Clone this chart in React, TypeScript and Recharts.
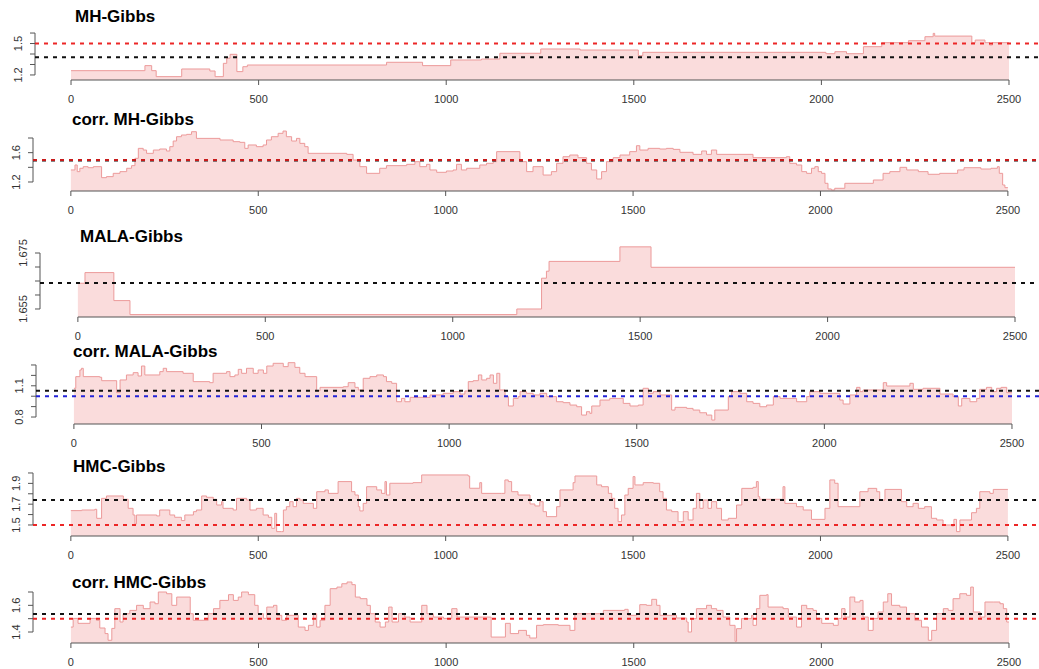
import { AreaChart, Area, XAxis, YAxis, ReferenceLine } from 'recharts';

const FONT = '"Liberation Sans", Arial, Helvetica, sans-serif';

const X_TICKS = [0, 500, 1000, 1500, 2000, 2500];

// [iteration, value] change points of each trace
const MH_GIBBS: [number, number][] = [
    [0, 1.241], [197, 1.289], [215, 1.241], [227, 1.184], [295, 1.257], [370, 1.238], [384, 1.184],
    [406, 1.311], [415, 1.36], [424, 1.397], [442, 1.232], [458, 1.279], [470, 1.295], [841, 1.321],
    [937, 1.289], [1012, 1.343], [1094, 1.352], [1143, 1.407], [1252, 1.448], [1357, 1.438], [1512, 1.384],
    [1524, 1.416], [2012, 1.403], [2036, 1.422], [2067, 1.403], [2112, 1.47], [2161, 1.508], [2232, 1.527],
    [2276, 1.565], [2298, 1.597], [2302, 1.571], [2401, 1.508], [2410, 1.533], [2436, 1.508], [2448, 1.486],
    [2456, 1.508], [2500, 1.508],
];

const CORR_MH_GIBBS: [number, number][] = [
    [0, 1.364], [11, 1.432], [17, 1.341], [24, 1.387], [33, 1.409], [46, 1.395], [60, 1.409], [82, 1.259],
    [95, 1.273], [113, 1.318], [131, 1.341], [149, 1.387], [162, 1.423], [171, 1.523], [180, 1.659], [193, 1.636],
    [202, 1.591], [220, 1.636], [237, 1.65], [255, 1.623], [264, 1.682], [273, 1.759], [282, 1.818], [295, 1.841],
    [309, 1.85], [322, 1.886], [335, 1.795], [398, 1.773], [433, 1.75], [451, 1.741], [464, 1.659], [473, 1.705],
    [495, 1.682], [513, 1.705], [522, 1.773], [535, 1.818], [553, 1.864], [566, 1.895], [575, 1.818], [589, 1.759],
    [602, 1.795], [611, 1.727], [624, 1.682], [633, 1.591], [736, 1.577], [753, 1.5], [771, 1.409], [789, 1.318],
    [824, 1.387], [842, 1.423], [896, 1.441], [918, 1.477], [931, 1.409], [949, 1.441], [958, 1.364], [976, 1.332],
    [1002, 1.35], [1020, 1.364], [1029, 1.441], [1042, 1.364], [1056, 1.387], [1091, 1.432], [1109, 1.455],
    [1127, 1.477], [1136, 1.614], [1185, 1.614], [1198, 1.477], [1216, 1.341], [1233, 1.409], [1260, 1.295],
    [1282, 1.341], [1296, 1.455], [1313, 1.545], [1331, 1.568], [1353, 1.532], [1376, 1.455], [1389, 1.364],
    [1403, 1.241], [1416, 1.341], [1429, 1.477], [1447, 1.532], [1465, 1.568], [1491, 1.614], [1509, 1.695],
    [1518, 1.636], [1540, 1.659], [1571, 1.65], [1589, 1.659], [1607, 1.645], [1625, 1.605], [1660, 1.577],
    [1683, 1.623], [1696, 1.577], [1709, 1.636], [1723, 1.577], [1820, 1.532], [1909, 1.545], [1918, 1.455],
    [1936, 1.432], [1950, 1.341], [1963, 1.318], [1976, 1.387], [1985, 1.409], [1994, 1.341], [2003, 1.318],
    [2012, 1.182], [2020, 1.105], [2029, 1.091], [2038, 1.114], [2065, 1.182], [2141, 1.227], [2167, 1.318],
    [2185, 1.341], [2212, 1.4], [2230, 1.364], [2261, 1.341], [2287, 1.305], [2318, 1.318], [2366, 1.364],
    [2383, 1.395], [2428, 1.377], [2455, 1.387], [2472, 1.409], [2477, 1.318], [2486, 1.159], [2492, 1.123],
    [2500, 1.123],
];

const MALA_GIBBS: [number, number][] = [
    [0, 1.6642], [19, 1.668], [96, 1.658], [139, 1.653], [1171, 1.655], [1237, 1.666], [1250, 1.6685],
    [1257, 1.672], [1446, 1.6772], [1529, 1.6699], [2500, 1.6699],
];

const CORR_MALA_GIBBS: [number, number][] = [
    [0, 1.076], [5, 1.188], [16, 1.252], [20, 1.268], [25, 1.188], [69, 1.182], [74, 1.149], [114, 1.034],
    [123, 1.156], [140, 1.204], [158, 1.226], [171, 1.194], [180, 1.29], [189, 1.204], [229, 1.236], [238, 1.268],
    [247, 1.236], [291, 1.22], [318, 1.14], [362, 1.13], [371, 1.22], [407, 1.236], [416, 1.188], [429, 1.204],
    [438, 1.258], [447, 1.22], [460, 1.268], [478, 1.22], [491, 1.252], [505, 1.22], [514, 1.29], [531, 1.316],
    [558, 1.284], [571, 1.322], [589, 1.277], [602, 1.22], [616, 1.188], [647, 1.053], [656, 1.085], [718, 1.091],
    [731, 1.13], [749, 1.085], [758, 1.06], [771, 1.172], [789, 1.188], [807, 1.204], [825, 1.188], [833, 1.14],
    [847, 1.124], [860, 0.947], [873, 0.979], [882, 0.947], [896, 0.989], [949, 1.012], [984, 1.028], [1011, 1.044],
    [1029, 1.021], [1042, 1.05], [1051, 1.14], [1064, 1.149], [1078, 1.204], [1087, 1.156], [1100, 1.172],
    [1109, 1.204], [1118, 1.124], [1127, 1.22], [1135, 1.06], [1149, 0.996], [1158, 0.906], [1171, 0.979],
    [1184, 0.996], [1189, 1.044], [1206, 1.028], [1224, 1.012], [1242, 1.028], [1260, 0.996], [1286, 0.947],
    [1304, 0.938], [1322, 0.915], [1340, 0.899], [1353, 0.819], [1366, 0.851], [1375, 0.835], [1380, 0.906],
    [1402, 0.963], [1428, 0.979], [1464, 0.931], [1482, 0.906], [1504, 0.915], [1517, 1.076], [1531, 1.028],
    [1544, 1.044], [1562, 1.012], [1593, 0.867], [1602, 0.893], [1633, 0.883], [1650, 0.867], [1668, 0.841],
    [1686, 0.819], [1700, 0.771], [1708, 0.867], [1744, 0.996], [1753, 1.044], [1775, 1.028], [1793, 0.947],
    [1810, 0.931], [1828, 0.899], [1846, 0.915], [1864, 0.996], [1882, 0.979], [1926, 0.947], [1953, 0.996],
    [1961, 1.044], [1988, 1.028], [2041, 0.963], [2050, 0.925], [2068, 1.012], [2086, 1.085], [2095, 1.044],
    [2103, 1.06], [2157, 1.13], [2166, 1.098], [2228, 1.124], [2237, 1.066], [2263, 1.076], [2308, 1.021],
    [2343, 0.996], [2357, 0.906], [2366, 0.979], [2388, 0.947], [2406, 0.979], [2414, 1.066], [2432, 1.085],
    [2446, 1.044], [2459, 1.076], [2471, 1.085], [2486, 1.034], [2500, 1.034],
];

const HMC_GIBBS: [number, number][] = [
    [0, 1.638], [29, 1.644], [64, 1.651], [69, 1.564], [82, 1.756], [95, 1.779], [140, 1.747], [153, 1.66],
    [166, 1.596], [171, 1.51], [175, 1.596], [229, 1.587], [237, 1.644], [264, 1.596], [277, 1.574], [295, 1.542],
    [304, 1.596], [327, 1.628], [335, 1.644], [349, 1.779], [362, 1.766], [380, 1.747], [389, 1.692], [402, 1.724],
    [406, 1.66], [433, 1.644], [442, 1.756], [469, 1.74], [478, 1.644], [495, 1.66], [513, 1.596], [527, 1.574],
    [536, 1.468], [544, 1.612], [549, 1.436], [562, 1.436], [567, 1.644], [575, 1.676], [584, 1.724], [593, 1.676],
    [602, 1.756], [611, 1.74], [620, 1.708], [647, 1.66], [656, 1.82], [678, 1.837], [687, 1.804], [713, 1.917],
    [749, 1.82], [758, 1.788], [767, 1.676], [771, 1.635], [780, 1.708], [789, 1.868], [816, 1.837], [829, 1.804],
    [838, 1.917], [842, 1.788], [851, 1.901], [913, 1.907], [936, 1.981], [1060, 1.971], [1064, 1.853],
    [1091, 1.907], [1096, 1.804], [1149, 1.804], [1158, 1.933], [1167, 1.917], [1176, 1.82], [1193, 1.788],
    [1225, 1.702], [1238, 1.683], [1251, 1.724], [1260, 1.628], [1269, 1.58], [1296, 1.676], [1305, 1.837],
    [1340, 1.907], [1345, 1.971], [1403, 1.885], [1416, 1.868], [1434, 1.804], [1443, 1.756], [1451, 1.66],
    [1460, 1.532], [1469, 1.596], [1478, 1.788], [1487, 1.852], [1500, 1.965], [1505, 1.885], [1527, 1.907],
    [1554, 1.901], [1571, 1.82], [1580, 1.756], [1589, 1.644], [1603, 1.628], [1620, 1.532], [1634, 1.628],
    [1647, 1.548], [1660, 1.66], [1669, 1.804], [1678, 1.66], [1687, 1.74], [1700, 1.66], [1709, 1.724],
    [1723, 1.66], [1736, 1.548], [1754, 1.564], [1776, 1.692], [1790, 1.852], [1820, 1.862], [1829, 1.917],
    [1834, 1.772], [1838, 1.747], [1900, 1.868], [1905, 1.708], [1936, 1.676], [1954, 1.644], [1976, 1.554],
    [2012, 1.66], [2025, 1.933], [2038, 1.901], [2047, 1.676], [2105, 1.82], [2127, 1.852], [2150, 1.82],
    [2158, 1.74], [2172, 1.842], [2216, 1.724], [2230, 1.676], [2247, 1.708], [2261, 1.66], [2278, 1.676],
    [2296, 1.564], [2310, 1.548], [2327, 1.5], [2350, 1.49], [2356, 1.554], [2363, 1.436], [2372, 1.548],
    [2403, 1.618], [2416, 1.66], [2425, 1.82], [2452, 1.804], [2461, 1.842], [2500, 1.842],
];

const CORR_HMC_GIBBS: [number, number][] = [
    [0, 1.437], [6, 1.502], [19, 1.465], [51, 1.502], [68, 1.488], [77, 1.43], [91, 1.388], [99, 1.338],
    [109, 1.427], [117, 1.575], [131, 1.475], [139, 1.537], [157, 1.562], [175, 1.6], [193, 1.575], [211, 1.625],
    [224, 1.612], [233, 1.7], [255, 1.687], [269, 1.6], [282, 1.662], [318, 1.537], [326, 1.488], [366, 1.537],
    [380, 1.575], [397, 1.637], [420, 1.68], [433, 1.637], [446, 1.662], [455, 1.7], [473, 1.68], [490, 1.6],
    [499, 1.537], [513, 1.502], [522, 1.587], [540, 1.6], [549, 1.525], [562, 1.488], [575, 1.525], [606, 1.437],
    [624, 1.412], [633, 1.45], [646, 1.537], [655, 1.437], [664, 1.488], [677, 1.6], [691, 1.725], [709, 1.737],
    [722, 1.762], [736, 1.775], [749, 1.755], [758, 1.662], [771, 1.65], [789, 1.6], [798, 1.537], [811, 1.475],
    [824, 1.437], [838, 1.475], [847, 1.587], [856, 1.475], [873, 1.537], [890, 1.512], [904, 1.475], [935, 1.6],
    [949, 1.537], [966, 1.512], [993, 1.502], [1015, 1.575], [1029, 1.512], [1120, 1.362], [1158, 1.465],
    [1171, 1.388], [1193, 1.412], [1214, 1.375], [1223, 1.355], [1241, 1.45], [1259, 1.455], [1299, 1.45],
    [1330, 1.412], [1343, 1.537], [1419, 1.562], [1476, 1.57], [1485, 1.525], [1508, 1.537], [1516, 1.605],
    [1534, 1.6], [1548, 1.645], [1561, 1.6], [1570, 1.525], [1614, 1.505], [1641, 1.475], [1645, 1.4],
    [1654, 1.5], [1667, 1.575], [1694, 1.6], [1707, 1.575], [1721, 1.562], [1738, 1.512], [1756, 1.45],
    [1770, 1.33], [1774, 1.425], [1787, 1.5], [1814, 1.525], [1818, 1.45], [1827, 1.575], [1836, 1.675],
    [1854, 1.68], [1858, 1.587], [1898, 1.575], [1912, 1.512], [1934, 1.437], [1947, 1.6], [1961, 1.575],
    [1978, 1.562], [1987, 1.502], [2001, 1.465], [2032, 1.45], [2045, 1.502], [2054, 1.575], [2063, 1.512],
    [2076, 1.662], [2089, 1.625], [2103, 1.637], [2111, 1.512], [2125, 1.412], [2138, 1.502], [2151, 1.55],
    [2165, 1.625], [2177, 1.687], [2187, 1.6], [2209, 1.587], [2227, 1.537], [2249, 1.488], [2267, 1.437],
    [2285, 1.338], [2294, 1.412], [2307, 1.537], [2325, 1.575], [2338, 1.562], [2351, 1.65], [2369, 1.687],
    [2387, 1.675], [2398, 1.737], [2405, 1.55], [2423, 1.512], [2436, 1.625], [2458, 1.625], [2476, 1.612],
    [2485, 1.575], [2494, 1.475], [2500, 1.475],
];

const RED = "#ec2626";
const BLACK = "#111";
const BLUE = "#2323d8";
const PAD = 20; // room above each plot so rotated tick labels are not clipped

interface PanelSpec {
    title: string;
    titleX: number;
    titleTop: number;
    series: [number, number][];
    axisX: number;
    top: number;
    bottom: number;
    xDomain: [number, number];
    yDomain: [number, number];
    yTicks: number[];
    yLabels: number[];
    refs: { y: number; color: string }[];
}

const PANELS: PanelSpec[] = [
    {
        title: "MH-Gibbs", titleX: 75, titleTop: 7.6, series: MH_GIBBS,
        axisX: 35, top: 30, bottom: 80, xDomain: [-96, 2580], yDomain: [1.152, 1.629],
        yTicks: [1.2, 1.3, 1.4, 1.5, 1.6], yLabels: [1.2, 1.5],
        refs: [{ y: 1.37, color: BLACK }, { y: 1.5, color: RED }],
    },
    {
        title: "corr. MH-Gibbs", titleX: 72, titleTop: 110.6, series: CORR_MH_GIBBS,
        axisX: 33, top: 129, bottom: 191, xDomain: [-101, 2583], yDomain: [1.077, 1.923],
        yTicks: [1.2, 1.4, 1.6, 1.8], yLabels: [1.2, 1.6],
        refs: [{ y: 1.492, color: BLACK }, { y: 1.5, color: "#c81a1a" }],
    },
    {
        title: "MALA-Gibbs", titleX: 80, titleTop: 227.6, series: MALA_GIBBS,
        axisX: 40, top: 245, bottom: 317, xDomain: [-101, 2564], yDomain: [1.65214, 1.67786],
        yTicks: [1.655, 1.66, 1.665, 1.67, 1.675], yLabels: [1.655, 1.675],
        refs: [{ y: 1.6643, color: BLACK }],
    },
    {
        title: "corr. MALA-Gibbs", titleX: 73, titleTop: 342.6, series: CORR_MALA_GIBBS,
        axisX: 36, top: 358, bottom: 424, xDomain: [-101, 2572], yDomain: [0.733, 1.367],
        yTicks: [0.8, 0.9, 1.0, 1.1, 1.2, 1.3], yLabels: [0.8, 1.1],
        refs: [{ y: 1.053, color: BLACK }, { y: 1.0, color: BLUE }],
    },
    {
        title: "HMC-Gibbs", titleX: 73, titleTop: 457.6, series: HMC_GIBBS,
        axisX: 33, top: 471, bottom: 536, xDomain: [-101, 2583], yDomain: [1.394, 2.019],
        yTicks: [1.5, 1.6, 1.7, 1.8, 1.9, 2.0], yLabels: [1.5, 1.7, 1.9],
        refs: [{ y: 1.74, color: BLACK }, { y: 1.5, color: RED }],
    },
    {
        title: "corr. HMC-Gibbs", titleX: 72, titleTop: 573.6, series: CORR_HMC_GIBBS,
        axisX: 33, top: 580, bottom: 643, xDomain: [-101, 2580], yDomain: [1.3175, 1.79],
        yTicks: [1.4, 1.5, 1.6, 1.7], yLabels: [1.4, 1.6],
        refs: [{ y: 1.535, color: BLACK }, { y: 1.5, color: RED }],
    },
];

function YTick(props: any) {
    const { x, y, payload, labels } = props;
    if (!labels.includes(payload.value)) return <g />;
    return (
        <text x={x} y={y} transform={`rotate(-90 ${x} ${y})`} textAnchor="middle"
            fontSize={11} fill="#333" fontFamily={FONT}>
            {String(payload.value)}
        </text>
    );
}

function TracePanel({ p }: { p: PanelSpec }) {
    const data = p.series.map(([it, v]) => ({ it, v }));
    const h = p.bottom - p.top;
    const lastTick = p.yTicks[p.yTicks.length - 1];
    return (
        <>
            <div style={{
                position: 'absolute', left: p.titleX, top: p.titleTop, font: `bold 17px/17px ${FONT}`,
                color: '#000', whiteSpace: 'nowrap', zIndex: 2,
            }}>
                {p.title}
            </div>
            <div style={{ position: 'absolute', left: 0, top: p.top - PAD }}>
                <AreaChart width={1039} height={h + 30 + PAD} data={data}
                    margin={{ top: PAD, right: 0, bottom: 0, left: 0 }}>
                    <XAxis dataKey="it" type="number" domain={p.xDomain} allowDataOverflow ticks={X_TICKS}
                        interval={0} axisLine={false} tickLine={{ stroke: '#555' }} tickSize={5} tickMargin={10}
                        height={30} tick={{ fontSize: 11, fill: '#333', fontFamily: FONT }} />
                    <YAxis type="number" domain={p.yDomain} allowDataOverflow ticks={p.yTicks} interval={0}
                        axisLine={false} tickLine={{ stroke: '#555' }} tickSize={5} tickMargin={8} width={p.axisX}
                        tick={(t: any) => <YTick {...t} labels={p.yLabels} />} />
                    <Area type="stepAfter" dataKey="v" stroke="#ec9a9a" strokeWidth={1} fill="#fadcdc"
                        fillOpacity={1} dot={false} activeDot={false} isAnimationActive={false} />
                    <ReferenceLine segment={[{ x: p.xDomain[0], y: p.yTicks[0] }, { x: p.xDomain[0], y: lastTick }]}
                        stroke="#555" ifOverflow="visible" />
                    <ReferenceLine segment={[{ x: 0, y: p.yDomain[0] }, { x: 2500, y: p.yDomain[0] }]}
                        stroke="#555" ifOverflow="visible" />
                    {p.refs.map((r, i) => (
                        <ReferenceLine key={i} y={r.y} stroke={r.color} strokeWidth={2} strokeDasharray="4 5"
                            ifOverflow="visible" />
                    ))}
                </AreaChart>
            </div>
        </>
    );
}

export default function App() {
    return (
        <div style={{ position: 'absolute', left: 0, top: 0, width: 1039, height: 669, background: '#fff' }}>
            {PANELS.map((p) => <TracePanel key={p.title} p={p} />)}
        </div>
    );
}
